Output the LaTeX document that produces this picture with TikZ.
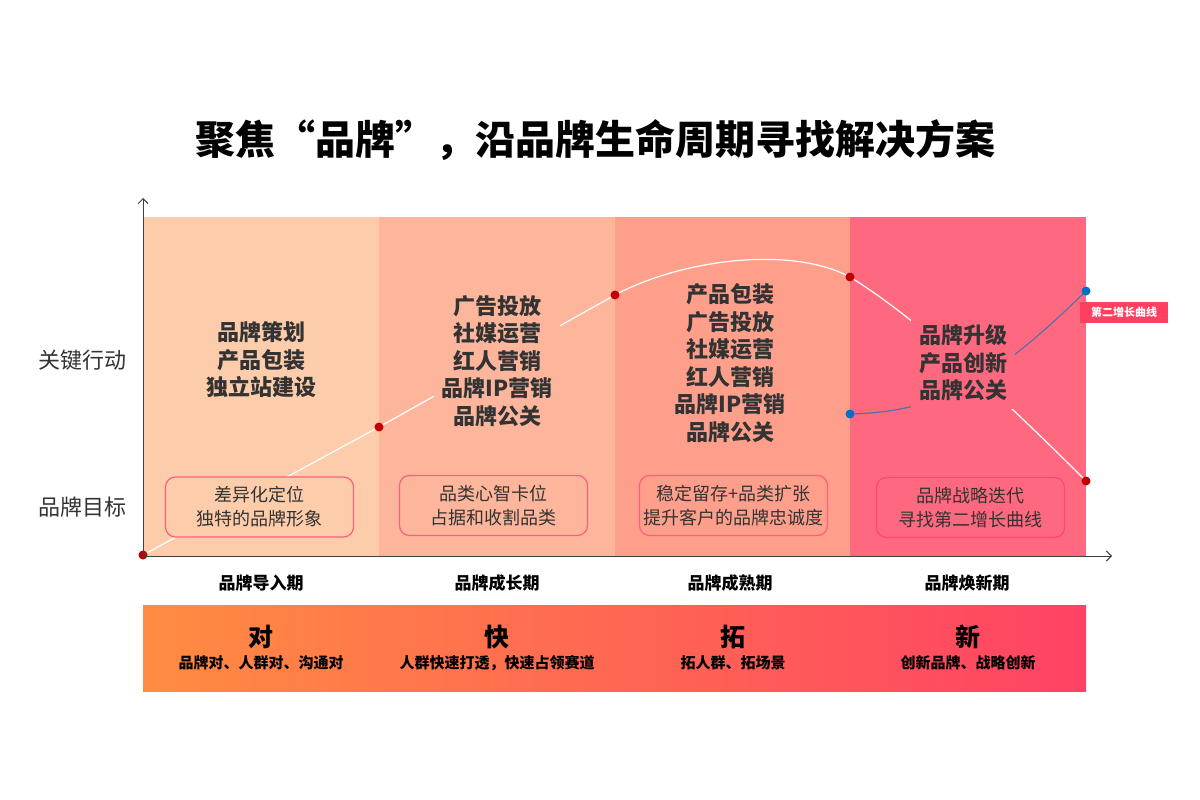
\documentclass[tikz,border=0pt]{standalone}
\usepackage{fontspec}
\setmainfont{Noto Sans CJK SC}
\usetikzlibrary{arrows.meta, positioning}
\definecolor{stageA}{RGB}{253,204,170}
\definecolor{stageB}{RGB}{253,182,155}
\definecolor{stageC}{RGB}{254,159,140}
\definecolor{stageD}{RGB}{255,105,128}
\definecolor{goalline}{RGB}{255,95,125}
\definecolor{goallineD}{RGB}{255,72,105}
\definecolor{txtgray}{RGB}{51,51,51}
\definecolor{dotred}{RGB}{192,0,0}
\definecolor{dotblue}{RGB}{0,112,192}
\definecolor{secondline}{RGB}{90,110,170}
\definecolor{tagred}{RGB}{255,64,96}
\definecolor{bandL}{RGB}{255,140,66}
\definecolor{bandM}{RGB}{255,108,88}
\definecolor{bandR}{RGB}{255,66,100}
\definecolor{axisgray}{RGB}{64,64,64}
\tikzset{
  action/.style={font=\fontsize{22}{27.5}\selectfont\bfseries, text=txtgray, align=center, inner sep=8pt},
  goalbox/.style={rounded corners=10pt, line width=1.2pt, minimum width=188pt, minimum height=60pt,
    align=center, font=\fontsize{18}{24}\selectfont, text=txtgray},
  rowlabel/.style={font=\fontsize{22}{26}\selectfont, text=txtgray},
  phase/.style={font=\fontsize{17}{20}\selectfont\bfseries},
  keych/.style={font=\fontsize{25}{28}\selectfont\bfseries},
  keyline/.style={font=\fontsize{15}{18}\selectfont\bfseries},
  lifeline/.style={white, line width=1.2pt},
  secondcurve/.style={secondline, line width=1.2pt},
  axis/.style={axisgray, line width=1pt, -{Straight Barb[length=5pt, width=10pt]}},
  tag/.style={fill=tagred, text=white, font=\fontsize{11}{13}\selectfont\bfseries,
    minimum width=88pt, minimum height=21pt, inner sep=2pt}
}
\begin{document}
\begin{tikzpicture}[x=1pt, y=-1pt]
  \useasboundingbox[fill=white] (0,0) rectangle (1200,800);
  \node[font=\fontsize{40}{48}\selectfont\bfseries] (title) at (595,140)
    {聚焦“品牌”，沿品牌生命周期寻找解决方案};

  % stage panels
  \foreach \xa/\xb/\bg in {143/379/stageA, 379/615/stageB, 615/850/stageC, 850/1086/stageD}
    \fill[\bg] (\xa,217) rectangle (\xb,556);

  % life cycle curve
  \coordinate (r1) at (143,555);
  \coordinate (r2) at (379,427);
  \coordinate (r3) at (615,295);
  \coordinate (r4) at (850,277);
  \coordinate (r5) at (1086,481);
  \draw[lifeline] (r1) -- (r2) -- (r3) .. controls (680,260) and (790,245) .. (r4)
    .. controls (920,320) and (1010,405) .. (r5);
  % second growth curve
  \coordinate (b1) at (850,414);
  \coordinate (b2) at (1086,291);
  \draw[secondcurve] (b1) .. controls (945,412) and (1000,375) .. (b2);

  % key actions
  \foreach \i/\cx/\cy/\bg/\txt in {
      1/261/360/stageA/{品牌策划\\产品包装\\独立站建设},
      2/497/361/stageB/{广告投放\\社媒运营\\红人营销\\品牌IP营销\\品牌公关},
      3/730/363/none/{产品包装\\广告投放\\社媒运营\\红人营销\\品牌IP营销\\品牌公关},
      4/963/363/stageD/{品牌升级\\产品创新\\品牌公关}}
    \node[action, fill=\bg] (act\i) at (\cx,\cy) {\txt};

  % brand goals
  \foreach \i/\cx/\cy/\bg/\edge/\txt in {
      1/259.5/507/stageA/goalline/{差异化定位\\独特的品牌形象},
      2/493.5/505.5/stageB/goalline/{品类心智卡位\\占据和收割品类},
      3/733.5/505.5/stageC/goalline/{稳定留存+品类扩张\\提升客户的品牌忠诚度},
      4/970.5/507.5/stageD/goallineD/{品牌战略迭代\\寻找第二增长曲线}}
    \node[goalbox, fill=\bg, draw=\edge] (goal\i) at (\cx,\cy) {\txt};

  % dots
  \foreach \p in {r1, r2, r3, r4, r5}
    \fill[dotred] (\p) circle (4.5pt);
  \foreach \p in {b1, b2}
    \fill[dotblue] (\p) circle (4.5pt);
  \node[tag] (tag) at (1124,312) {第二增长曲线};

  \node[rowlabel] (rowact) at (82,360) {关键行动};
  \node[rowlabel] (rowgoal) at (82,507) {品牌目标};

  % axes
  \coordinate (origin) at (143,556);
  \coordinate (ytip) at (143,198);
  \coordinate (xtip) at (1112,556);
  \draw[axis] (origin) -- (ytip);
  \draw[axis] (origin) -- (xtip);

  \foreach \i/\cx/\txt in {1/261/品牌导入期, 2/497/品牌成长期, 3/730/品牌成熟期, 4/967/品牌焕新期}
    \node[phase] (phase\i) at (\cx,583) {\txt};

  % strategy band
  \shade[left color=bandL, middle color=bandM, right color=bandR] (143,605) rectangle (1086,691);
  \foreach \i/\cx/\keychar/\keytxt in {
      1/261/对/{品牌对、人群对、沟通对},
      2/497/快/{人群快速打透，快速占领赛道},
      3/733/拓/{拓人群、拓场景},
      4/968/新/{创新品牌、战略创新}} {
    \node[keych] (key\i) at (\cx,637) {\keychar};
    \node[keyline] (keyline\i) at (\cx,663) {\keytxt};
  }
\end{tikzpicture}
\end{document}
